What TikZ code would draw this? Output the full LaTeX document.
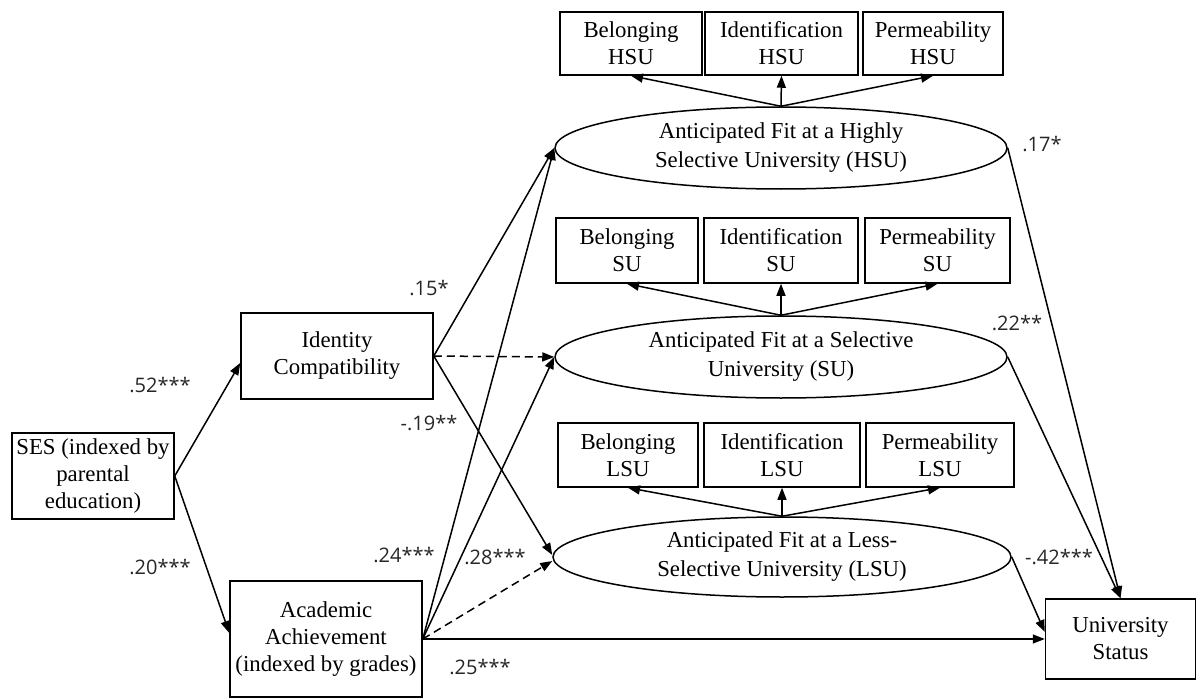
\documentclass[tikz,border=0pt]{standalone}
\usepackage{fontspec}
\setmainfont{Liberation Serif}
\newfontfamily\lblfont{Open Sans}
\usetikzlibrary{shapes.geometric,arrows.meta,calc}
\begin{document}
\begin{tikzpicture}[x=1pt,y=-1pt,
  box/.style={draw,line width=1.5pt,rectangle,inner sep=0pt,align=center,
    font=\fontsize{22.8}{27}\selectfont},
  lat/.style={draw,ellipse,line width=1.5pt,inner sep=0pt,align=center,
    font=\fontsize{22.8}{29}\selectfont},
  arr/.style={line width=1.5pt,-{Triangle[length=12pt,width=9pt]}},
  darr/.style={arr,dash pattern=on 8pt off 5pt},
  lbl/.style={font=\lblfont\fontsize{20}{24}\selectfont,inner sep=0pt,text=black!85}]
\useasboundingbox (0,0) rectangle (1197,698);

% left boxes
\node[box,minimum width=162pt,minimum height=86pt] (ses) at (93,476) {SES (indexed by\\parental\\education)};
\node[box,minimum width=192pt,minimum height=86pt] (ident) at (337,356) {Identity\\Compatibility};
\node[box,minimum width=192pt,minimum height=116pt] (acad) at (326,639) {Academic\\Achievement\\(indexed by grades)};
\node[box,minimum width=150pt,minimum height=80pt] (univ) at (1120.5,639) {University\\Status};

% latent variables
\node[lat,minimum width=452pt,minimum height=82pt] (hsu) at (781,148) {Anticipated Fit at a Highly\\Selective University (HSU)};
\node[lat,minimum width=452pt,minimum height=82pt] (su) at (781,357) {Anticipated Fit at a Selective\\University (SU)};
\node[lat,minimum width=458pt,minimum height=80pt] (lsu) at (782,557) {Anticipated Fit at a Less-\\Selective University (LSU)};

% indicator boxes HSU
\node[box,minimum width=142pt,minimum height=63pt] (bh) at (631,43.5) {Belonging\\HSU};
\node[box,minimum width=153pt,minimum height=63pt] (ih) at (781.5,43.5) {Identification\\HSU};
\node[box,minimum width=140pt,minimum height=63pt] (ph) at (933,43.5) {Permeability\\HSU};
% indicator boxes SU
\node[box,minimum width=142pt,minimum height=65pt] (bs) at (627,250.5) {Belonging\\SU};
\node[box,minimum width=154pt,minimum height=65pt] (is) at (781,250.5) {Identification\\SU};
\node[box,minimum width=145pt,minimum height=65pt] (ps) at (937.5,250.5) {Permeability\\SU};
% indicator boxes LSU
\node[box,minimum width=140pt,minimum height=64pt] (bl) at (628,455) {Belonging\\LSU};
\node[box,minimum width=156pt,minimum height=64pt] (il) at (782,455) {Identification\\LSU};
\node[box,minimum width=148pt,minimum height=64pt] (pl) at (940,455) {Permeability\\LSU};

% measurement arrows
\foreach \l/\b in {hsu/bh,hsu/ih,hsu/ph,su/bs,su/is,su/ps,lsu/bl,lsu/il,lsu/pl}
  \draw[arr] (\l.north) -- (\b.south);

% structural paths
\draw[arr] (ses.east) -- ($(ident.west)+(0,7)$);
\draw[arr] (ses.east) -- ($(acad.west)+(0,-6)$);
\draw[arr] (ident.east) -- (hsu.west);
\draw[darr] (ident.east) -- (su.west);
\draw[arr] (ident.east) -- ($(lsu.west)+(0,-2)$);
\draw[arr] (acad.east) -- (hsu.west);
\draw[arr] (acad.east) -- (su.west);
\draw[darr] (acad.east) -- ($(lsu.west)+(0,4)$);
\draw[arr] (acad.east) -- (univ.west);
\draw[arr] (hsu.east) -- (univ.north);
\draw[arr] (su.east) -- (univ.north);
\draw[arr] (lsu.east) -- ($(univ.west)+(0,-7)$);

% coefficients
\node[lbl] (c52) at (160,385) {.52***};
\node[lbl] (c20) at (160,567) {.20***};
\node[lbl] (c15) at (429,288) {.15*};
\node[lbl] (c19) at (429,423) {-.19**};
\node[lbl] (c24) at (404,555) {.24***};
\node[lbl] (c28) at (495,557) {.28***};
\node[lbl] (c25) at (480,667) {.25***};
\node[lbl] (c17) at (1042,144) {.17*};
\node[lbl] (c22) at (1017,323) {.22**};
\node[lbl] (c42) at (1059,557) {-.42***};
\end{tikzpicture}
\end{document}
